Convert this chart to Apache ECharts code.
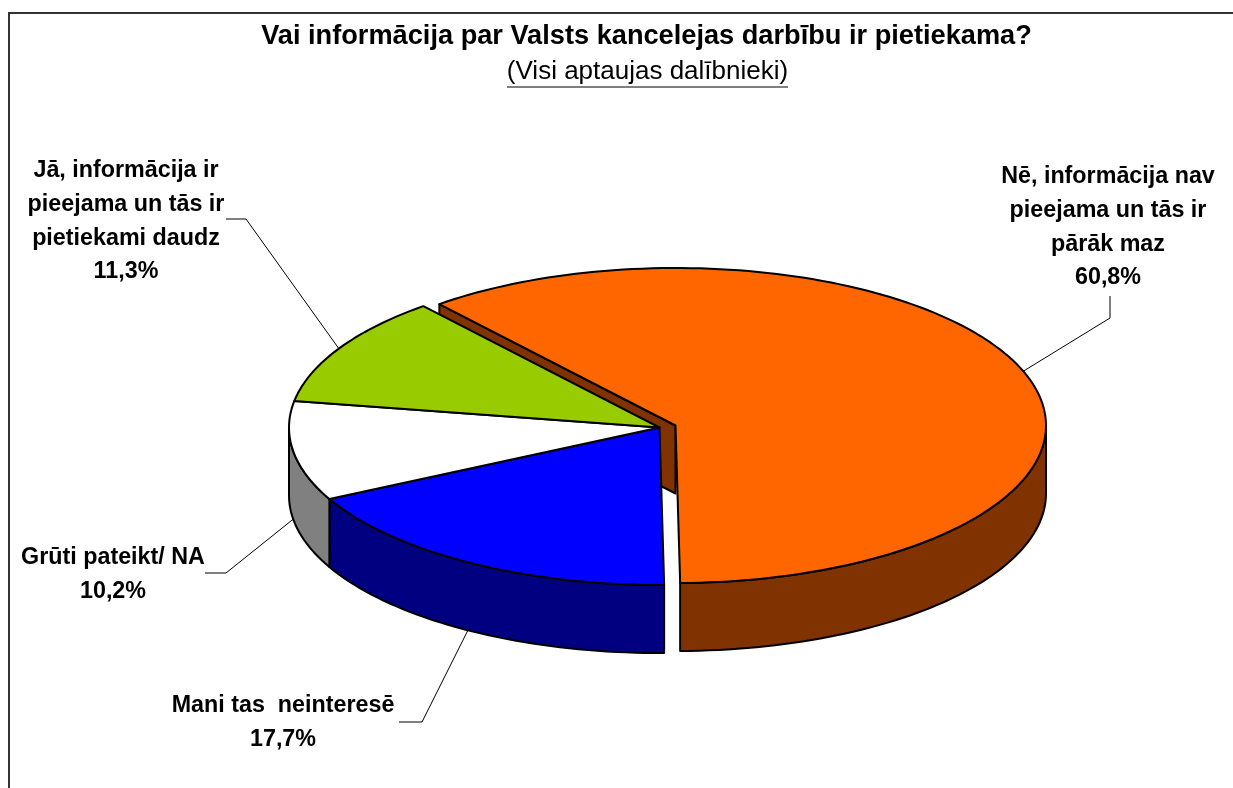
<!DOCTYPE html>
<html><head><meta charset="utf-8">
<style>html,body{margin:0;padding:0;background:#fff}#c{width:1233px;height:788px}</style>
<script src="https://cdn.jsdelivr.net/npm/echarts@6/dist/echarts.min.js"></script>
</head><body><div id="c"></div>
<script>
// Data
const categories = ['Nē, informācija nav\npieejama un tās ir\npārāk maz', 'Mani tas  neinteresē', 'Grūti pateikt/ NA', 'Jā, informācija ir\npieejama un tās ir\npietiekami daudz'];
const values = [60.8, 17.7, 10.2, 11.3];
// Styles & layout
const topColors = ['#FF6600', '#0000FF', '#FFFFFF', '#99CC00'];
const sideColors = ['#803300', '#000080', '#808080', '#4D6600'];
const explodeX = [16, 0, 0, 0];
const explodeY = [-2, 0, 0, 0];
const labelPos = [[1108, 160], [283, 689], [113, 541], [126, 154]];
const labelElbow = [[[1110, 296], [1110, 318]], [[399, 722], [422, 722]], [[205, 573], [226, 573]], [[226, 219], [246, 219]]];
const CX = 659.5, CY = 427.5, RX = 370.5, RY = 157.5, DEPTH = 68, START = 230.4;
const FONT_LABEL = 'bold 23.3px "Liberation Sans", Arial, sans-serif';

const total = values.reduce((a, b) => a + b, 0);
const spans = [];
values.reduce((acc, v) => { const s = v / total * 360; spans.push([acc, acc + s]); return acc + s; }, START);

function rim(i, deg, dy) {
  const t = deg * Math.PI / 180;
  return [CX + explodeX[i] + RX * Math.cos(t), CY + explodeY[i] + RY * Math.sin(t) + (dy || 0)];
}
function arc(i, a, b, dy) {
  const n = Math.max(2, Math.ceil(Math.abs(b - a) / 1.5)), pts = [];
  for (let k = 0; k <= n; k++) pts.push(rim(i, a + (b - a) * k / n, dy));
  return pts;
}
const outline = { stroke: '#000', lineWidth: 2, lineJoin: 'round' };
const poly = (points, fill) => ({ type: 'polygon', shape: { points }, style: Object.assign({ fill }, outline) });

function renderWalls(params) {
  const i = params.dataIndex, [a, b] = spans[i], out = [];
  // outer wall: only the front half (0..180 and 360..540 degrees) can be seen
  [[0, 180], [360, 540]].forEach(([lo, hi]) => {
    const s = Math.max(a, lo), e = Math.min(b, hi);
    if (e > s) out.push(poly(arc(i, s, e).concat(arc(i, e, s, DEPTH)), sideColors[i]));
  });
  // cut face of an exploded slice
  if (explodeX[i]) {
    const apex = [CX + explodeX[i], CY + explodeY[i]], p = rim(i, a);
    out.push(poly([apex, p, [p[0], p[1] + DEPTH], [apex[0], apex[1] + DEPTH]], sideColors[i]));
  }
  return { type: 'group', children: out };
}
function renderTops(params) {
  const i = params.dataIndex, [a, b] = spans[i];
  return poly([[CX + explodeX[i], CY + explodeY[i]]].concat(arc(i, a, b)), topColors[i]);
}
function renderLabels(params) {
  const i = params.dataIndex, [a, b] = spans[i], mid = ((a + b) / 2) % 360;
  const anchor = rim(i, mid, mid < 180 ? DEPTH : 0);
  const pct = String(values[i]).replace('.', ',') + '%';
  return { type: 'group', children: [
    { type: 'polyline', shape: { points: labelElbow[i].concat([anchor]) }, style: { stroke: '#000', lineWidth: 1, fill: null } },
    { type: 'text', style: { text: categories[i] + '\n' + pct, x: labelPos[i][0], y: labelPos[i][1], align: 'center', verticalAlign: 'top',
      font: FONT_LABEL, lineHeight: 33.7, fill: '#000' } }
  ]};
}
const seriesData = values.map((v, i) => ({ name: categories[i], value: v }));
const custom = (renderItem, z) => ({ type: 'custom', coordinateSystem: 'none', renderItem, data: seriesData, z, silent: true, clip: false });

const chart = echarts.init(document.getElementById('c'), null, { renderer: 'canvas' });
chart.setOption({
  animation: false,
  backgroundColor: '#fff',
  title: [
    { text: 'Vai informācija par Valsts kancelejas darbību ir pietiekama?', left: 641.5, top: 18, textAlign: 'center',
      textStyle: { fontFamily: '"Liberation Sans", Arial, sans-serif', fontWeight: 'bold', fontSize: 27.2, color: '#000' } },
    { text: '(Visi aptaujas dalībnieki)', left: 642.5, top: 54, textAlign: 'center',
      textStyle: { fontFamily: '"Liberation Sans", Arial, sans-serif', fontWeight: 'normal', fontSize: 26, color: '#000' } }
  ],
  graphic: [
    { type: 'polyline', shape: { points: [[9, 788], [9, 13], [1233, 13]] }, style: { stroke: '#333', lineWidth: 2, fill: null } },
    { type: 'line', shape: { x1: 507, y1: 87, x2: 788, y2: 87 }, style: { stroke: '#000', lineWidth: 1 } }
  ],
  series: [custom(renderWalls, 2), custom(renderTops, 3), custom(renderLabels, 4)]
});
</script></body></html>
